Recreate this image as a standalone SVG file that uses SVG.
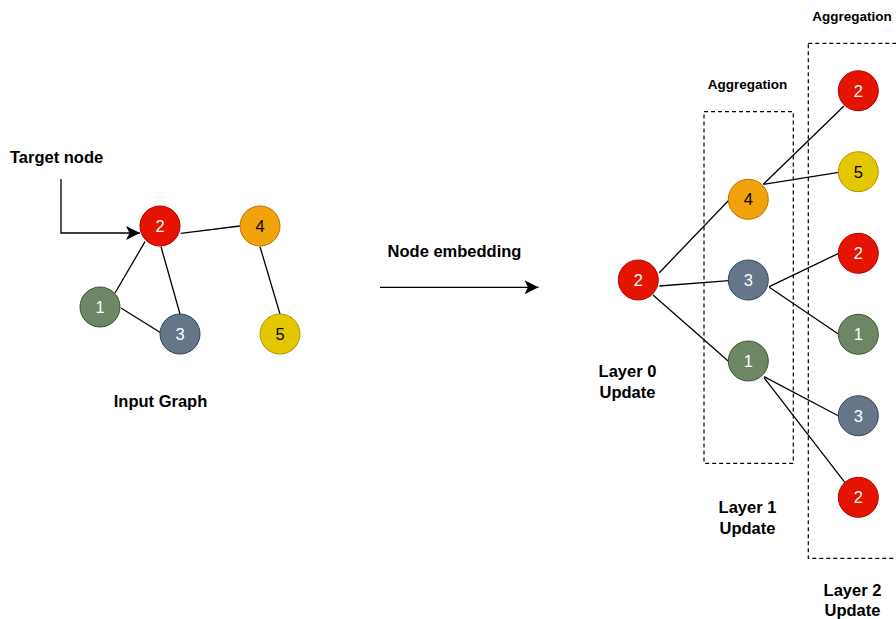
<svg xmlns="http://www.w3.org/2000/svg" width="896" height="619" viewBox="0 0 896 619">
<style>
.lbl{font-family:"Liberation Sans",Arial,sans-serif;font-weight:bold;font-size:16.5px;fill:#000;text-anchor:middle}
.agg{font-family:"Liberation Sans",Arial,sans-serif;font-weight:bold;font-size:13.5px;fill:#000;text-anchor:middle}
.num{font-family:"Liberation Sans",Arial,sans-serif;font-size:16.5px;text-anchor:middle}
.w{fill:#fff}.b{fill:#000}
.red{fill:#e51400;stroke:#b20000}
.org{fill:#f0a30a;stroke:#bd7000}
.grn{fill:#6d8764;stroke:#3a5431}
.gry{fill:#647687;stroke:#314354}
.yel{fill:#e3c800;stroke:#b09500}
.edge{stroke:#000;stroke-width:1.3;fill:none}
.box{stroke:#000;stroke-width:1.2;fill:none;stroke-dasharray:4 3}
</style>
<defs>
<marker id="arr" markerUnits="userSpaceOnUse" markerWidth="16" markerHeight="14" refX="14" refY="7" orient="auto">
<path d="M0,0 L14,7 L0,14 L3.5,7 Z" fill="#000"/>
</marker>
</defs>
<g id="labels">
<text x="10" y="163" class="lbl" style="text-anchor:start">Target node</text>
<text x="160.5" y="407" class="lbl">Input Graph</text>
<text x="454.5" y="257" class="lbl">Node embedding</text>
<text x="747.5" y="89" class="agg">Aggregation</text>
<text x="852" y="21" class="agg">Aggregation</text>
<text x="627.5" y="377" class="lbl">Layer 0</text>
<text x="627.5" y="398" class="lbl">Update</text>
<text x="747.5" y="513" class="lbl">Layer 1</text>
<text x="747.5" y="534" class="lbl">Update</text>
<text x="852.5" y="596" class="lbl">Layer 2</text>
<text x="852.5" y="616" class="lbl">Update</text>
</g>
<g id="boxes">
<rect x="704" y="111.7" width="89.3" height="351.6" class="box"/>
<rect x="808.3" y="43.3" width="100" height="515" class="box"/>
</g>
<g id="connectors">
<path d="M61,179 L61,233 L140,233" class="edge" marker-end="url(#arr)"/>
<path d="M380,287.3 L538.5,287.3" class="edge" stroke-width="1.3" marker-end="url(#arr)"/>
<path d="M180.7,233.3 L240,226" class="edge"/>
<path d="M145,241.7 L115,293" class="edge"/>
<path d="M161,246.7 L180,314" class="edge"/>
<path d="M121,308 L160.7,332.7" class="edge"/>
<path d="M260,246.7 L280,314" class="edge"/>
<path d="M659.3,272.7 L729,200" class="edge"/>
<path d="M659.3,286 L729,280.7" class="edge"/>
<path d="M653,295 L729,361.7" class="edge"/>
<path d="M763.3,184.3 L844,106" class="edge"/>
<path d="M763.3,184.3 L838.7,172.3" class="edge"/>
<path d="M769.3,286.7 L838.7,253.3" class="edge"/>
<path d="M769.3,287.3 L838.7,334.3" class="edge"/>
<path d="M764,376.7 L838.7,416" class="edge"/>
<path d="M764,377.7 L845,482.7" class="edge"/>
</g>
<g id="in2"><circle cx="160" cy="226" r="20" class="red"/><text x="160" y="232" class="num w">2</text></g>
<g id="in4"><circle cx="260" cy="226" r="20" class="org"/><text x="260" y="232" class="num b">4</text></g>
<g id="in1"><circle cx="100" cy="307" r="20" class="grn"/><text x="100" y="313" class="num w">1</text></g>
<g id="in3"><circle cx="180" cy="334" r="20" class="gry"/><text x="180" y="340" class="num w">3</text></g>
<g id="in5"><circle cx="280" cy="334" r="20" class="yel"/><text x="280" y="340" class="num b">5</text></g>
<g id="l0n2"><circle cx="638.3" cy="280" r="20" class="red"/><text x="638.3" y="286" class="num w">2</text></g>
<g id="l1n4"><circle cx="748.3" cy="199.3" r="20" class="org"/><text x="748.3" y="205.3" class="num b">4</text></g>
<g id="l1n3"><circle cx="748.3" cy="280" r="20" class="gry"/><text x="748.3" y="286" class="num w">3</text></g>
<g id="l1n1"><circle cx="748.3" cy="361" r="20" class="grn"/><text x="748.3" y="367" class="num w">1</text></g>
<g id="l2n2a"><circle cx="858.3" cy="90.7" r="20" class="red"/><text x="858.3" y="96.7" class="num w">2</text></g>
<g id="l2n5"><circle cx="858.3" cy="171.7" r="20" class="yel"/><text x="858.3" y="177.7" class="num b">5</text></g>
<g id="l2n2b"><circle cx="858.3" cy="253.3" r="20" class="red"/><text x="858.3" y="259.3" class="num w">2</text></g>
<g id="l2n1"><circle cx="858.3" cy="334.3" r="20" class="grn"/><text x="858.3" y="340.3" class="num w">1</text></g>
<g id="l2n3"><circle cx="858.3" cy="415.7" r="20" class="gry"/><text x="858.3" y="421.7" class="num w">3</text></g>
<g id="l2n2c"><circle cx="858.3" cy="497.3" r="20" class="red"/><text x="858.3" y="503.3" class="num w">2</text></g>
</svg>
